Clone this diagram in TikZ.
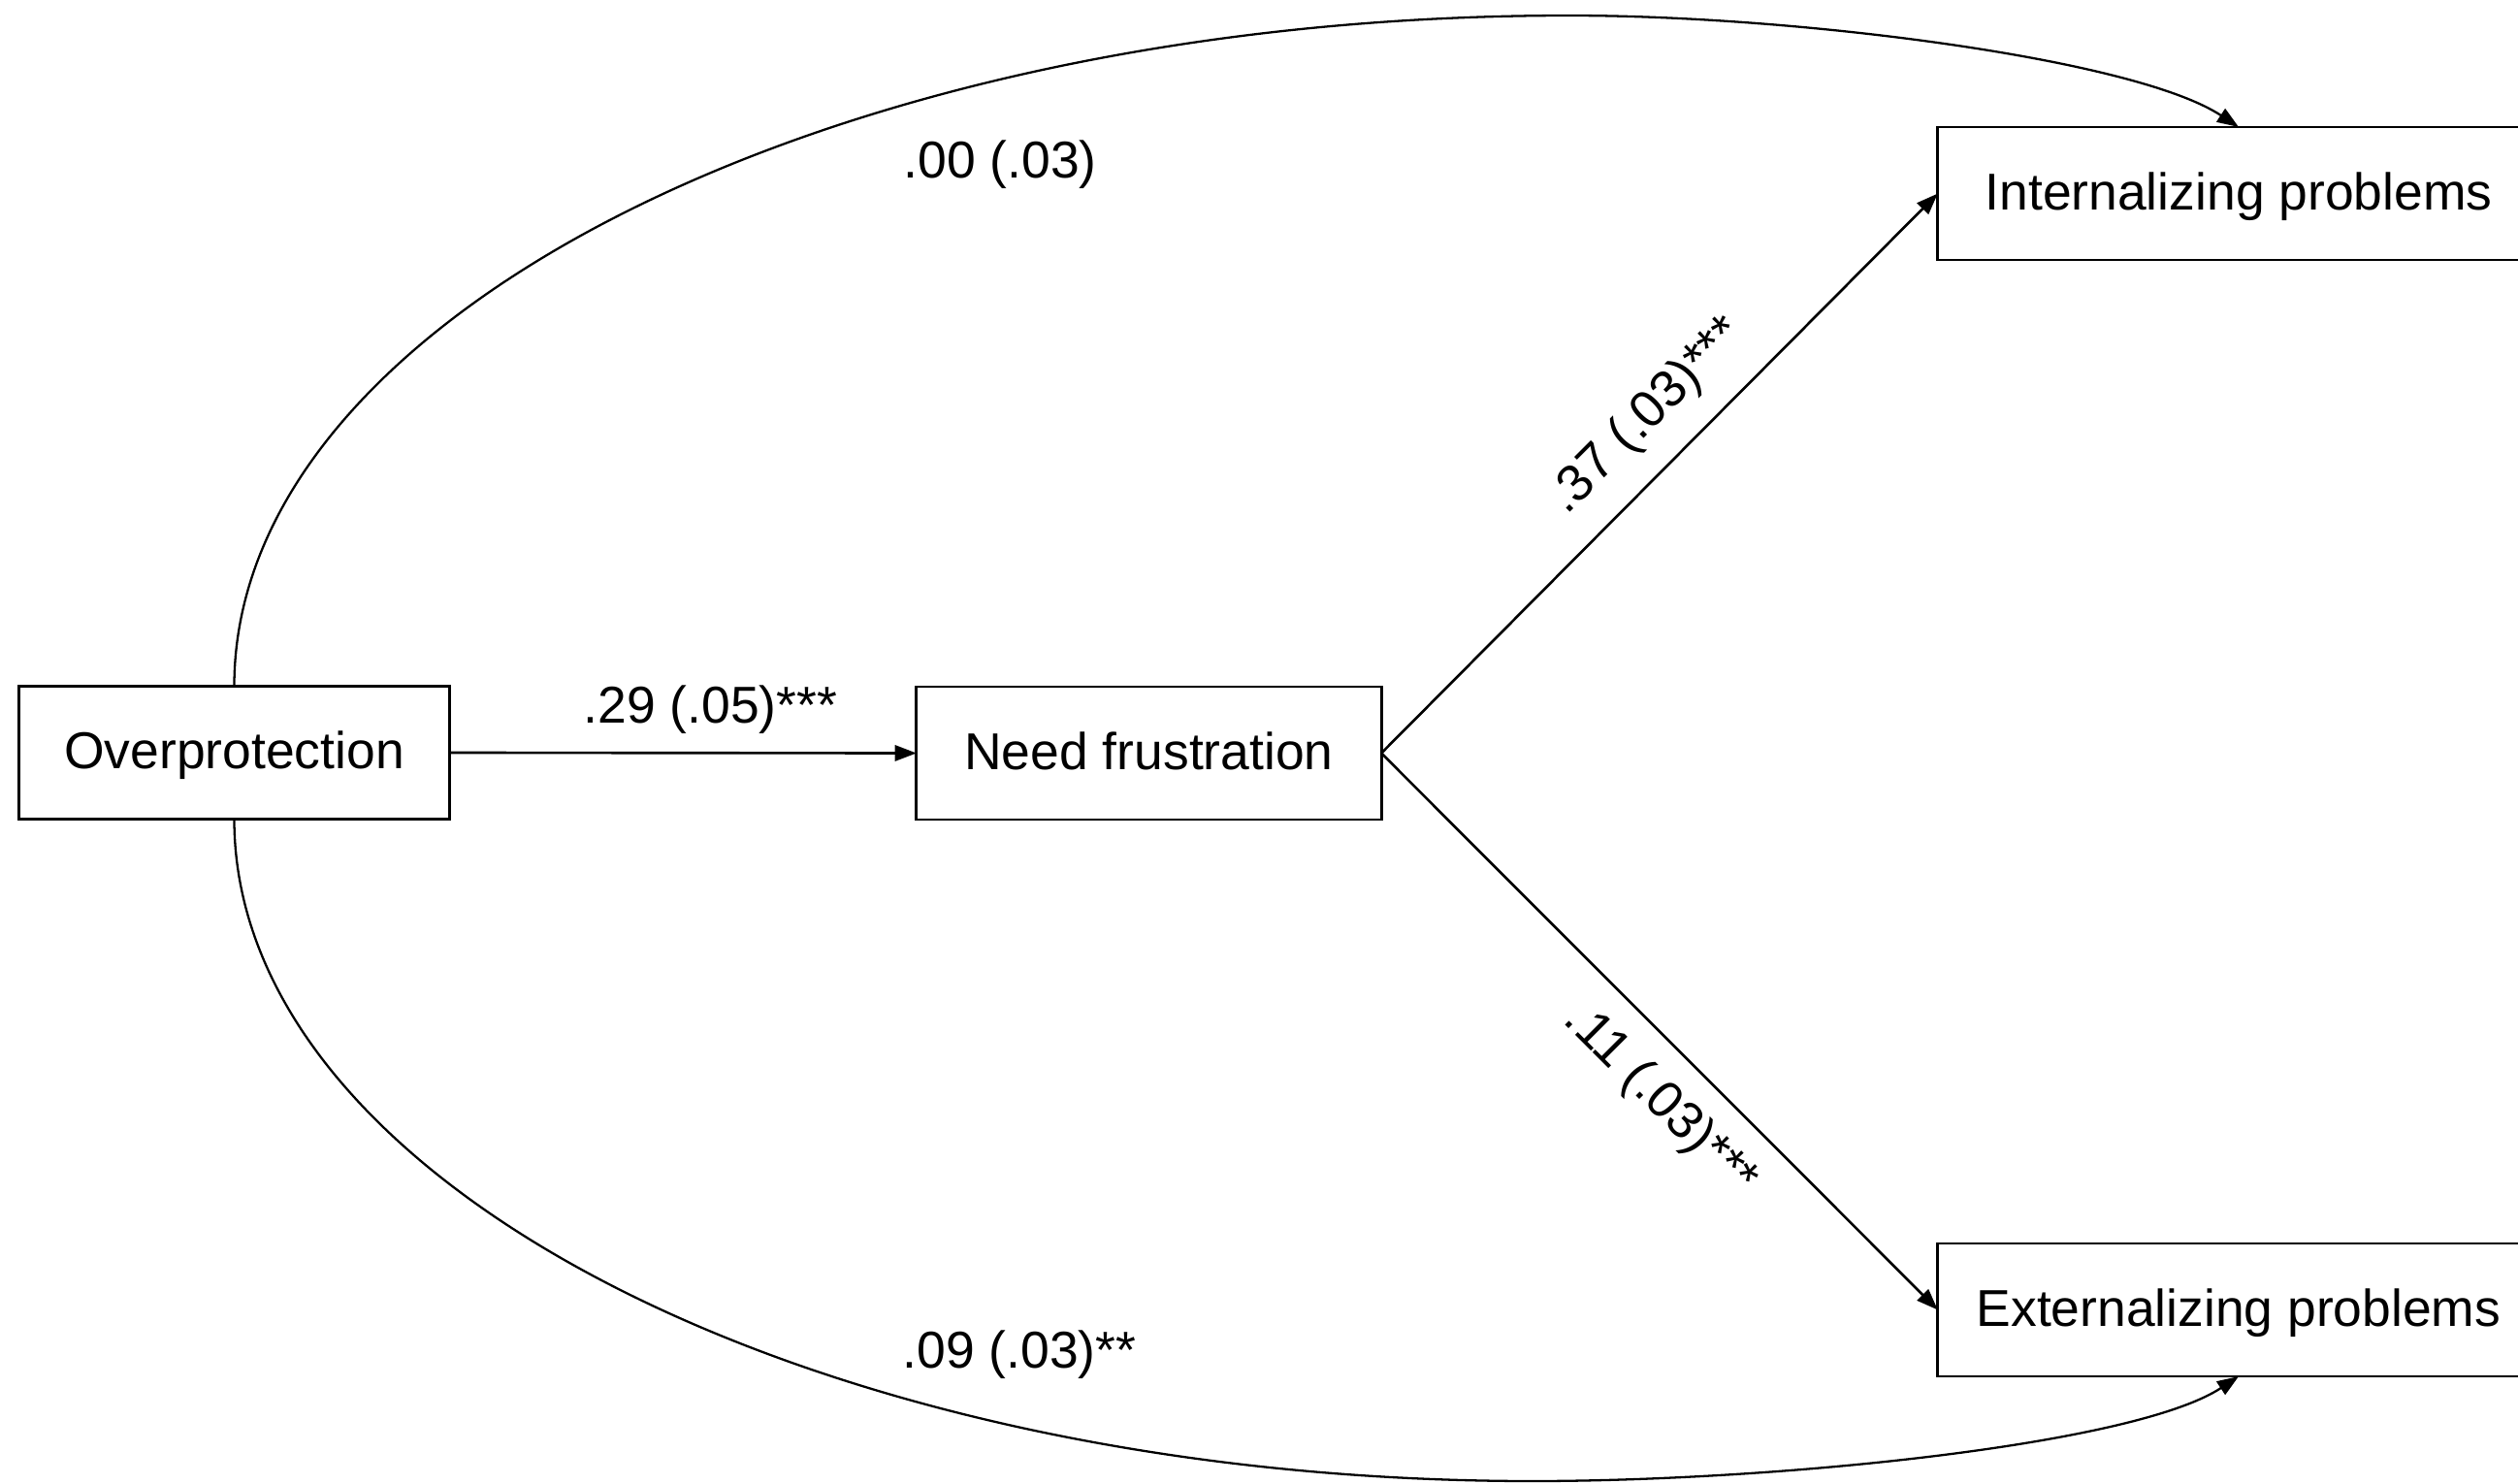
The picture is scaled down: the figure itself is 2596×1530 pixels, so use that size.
\documentclass[tikz,border=0pt]{standalone}
\usepackage{fontspec}
\setmainfont{Liberation Sans}
\usetikzlibrary{arrows.meta}
\begin{document}
\begin{tikzpicture}[x=0.01cm, y=-0.01cm,
  txt/.style={font=\fontsize{15.2pt}{18pt}\selectfont},
  box/.style={txt, draw=black, line width=0.8pt, inner sep=0pt, outer sep=0pt,
              minimum height=1.37cm, text height=11pt, text depth=1.5pt},
  lbl/.style={txt, inner sep=0pt},
  conn/.style={line width=0.75pt, -{Triangle[length=6.3pt,width=4.6pt]}},
  arcconn/.style={conn, line width=0.65pt}]
\useasboundingbox (0,0) rectangle (2596,1530);
\fill[white] (0,0) rectangle (2596,1530);

% variables of the mediation model
\node[box, minimum width=4.43cm] (over) at (241.5,776) {Overprotection};
\node[box, minimum width=4.79cm] (nf)   at (1184.5,776.5) {Need frustration};
\node[box, minimum width=6.20cm] (int)  at (2308,199.5) {Internalizing problems};
\node[box, minimum width=6.20cm] (ext)  at (2308,1350.5) {Externalizing problems};

% turning points of the two direct paths
\coordinate (toppeak) at (1618,16);
\coordinate (lowpeak) at (1580,1527);

% indirect paths
\draw[conn] (over.east) -- (nf.west);
\draw[conn] (nf.east) -- (int.west);
\draw[conn] (nf.east) -- (ext.west);

% direct paths
\draw[arcconn] (over.north) .. controls (241.5,326) and (858,16) .. (toppeak)
            .. controls (1850,16) and (2200,60) .. (int.north);
\draw[arcconn] (over.south) .. controls (241.5,1221) and (841,1527) .. (lowpeak)
            .. controls (1830,1527) and (2200,1490) .. (ext.south);

% path coefficients
\node[lbl, anchor=base west] (c1) at (601,745) {.29 (.05)***};
\node[lbl, anchor=base west] (c2) at (931,183) {.00 (.03)};
\node[lbl, anchor=base west] (c3) at (930,1410) {.09 (.03)**};
\node[lbl, anchor=base west, rotate=45]  (c4) at (1615,532) {.37 (.03)***};
\node[lbl, anchor=base west, rotate=-45] (c5) at (1610,1053) {.11 (.03)***};
\end{tikzpicture}
\end{document}
